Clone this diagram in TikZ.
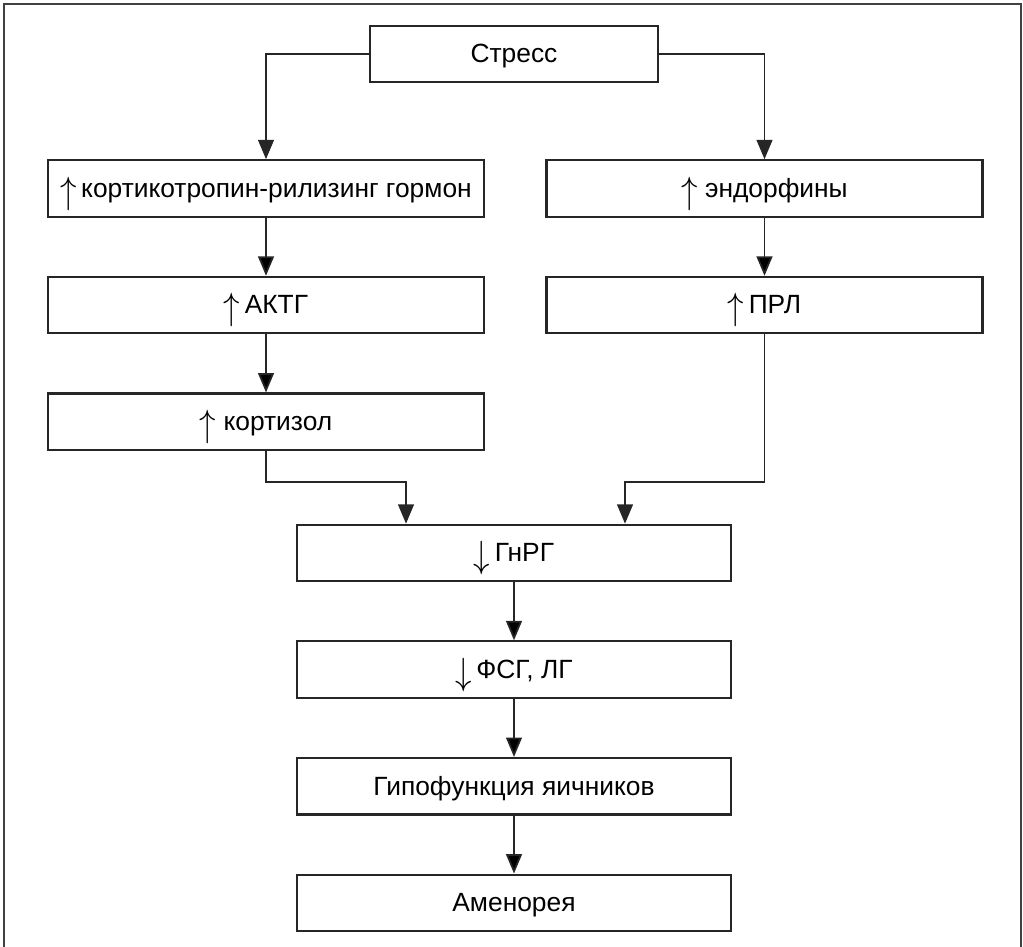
\documentclass[tikz,border=0pt]{standalone}
\usepackage{fontspec}
\setmainfont{Liberation Sans}
\usetikzlibrary{arrows.meta,positioning}

\newcommand{\incr}{\raisebox{-3.4pt}{\scalebox{1.3}[1.5]{$\uparrow$}}}
\newcommand{\decr}{\raisebox{-3.4pt}{\scalebox{1.3}[1.5]{$\downarrow$}}}

\begin{document}
\begin{tikzpicture}[->,>={Triangle[length=11pt,width=9pt]},line width=1pt,
  node distance=1.16cm,
  main node/.style={rectangle,draw=black!85,line width=1.2pt,text=black,
    minimum height=1.13cm,text height=12pt,text depth=2pt,
    font=\fontsize{15}{18}\selectfont},
  wide node/.style={main node,minimum width=8.72cm}]

  \useasboundingbox (0,0) rectangle (20.46,-18.94);
  \draw[-,black!75,line width=1.5pt] (0.08,-19) -- (0.08,-0.08) -- (20.42,-0.08) -- (20.42,-19);

  \node[main node,minimum width=5.76cm] (1) at (10.28,-1.08) {Стресс};
  \node[wide node] (2) at (5.32,-3.77) {\incr\,кортикотропин-рилизинг гормон};
  \node[wide node] (3) at (15.29,-3.77) {\incr\ эндорфины};
  \node[wide node] (4) [below=of 2] {\incr\,АКТГ};
  \node[wide node] (5) [below=of 3] {\incr\,ПРЛ};
  \node[wide node] (6) [below=of 4] {\incr\ кортизол};
  \node[wide node,minimum width=8.68cm] (7) at (10.28,-11.06) {\decr\,ГнРГ};
  \node[wide node,minimum width=8.68cm] (8) [below=of 7] {\decr\,ФСГ, ЛГ};
  \node[wide node,minimum width=8.68cm] (9) [below=of 8] {Гипофункция яичников};
  \node[wide node,minimum width=8.68cm] (10) [below=of 9] {Аменорея};

  \coordinate (jl) at (8.12,-9.64);
  \coordinate (jr) at (12.5,-9.64);

  \draw[black!85] (1.west) -| (2.north);
  \draw[black!85] (1.east) -| (3.north);
  \path[draw=black!85]
    (2) edge (4)
    (4) edge (6)
    (3) edge (5)
    (7) edge (8)
    (8) edge (9)
    (9) edge (10);
  \draw[black!85] (6.south) |- (jl) -- (jl |- 7.north);
  \draw[black!85] (5.south) |- (jr) -- (jr |- 7.north);
\end{tikzpicture}
\end{document}
